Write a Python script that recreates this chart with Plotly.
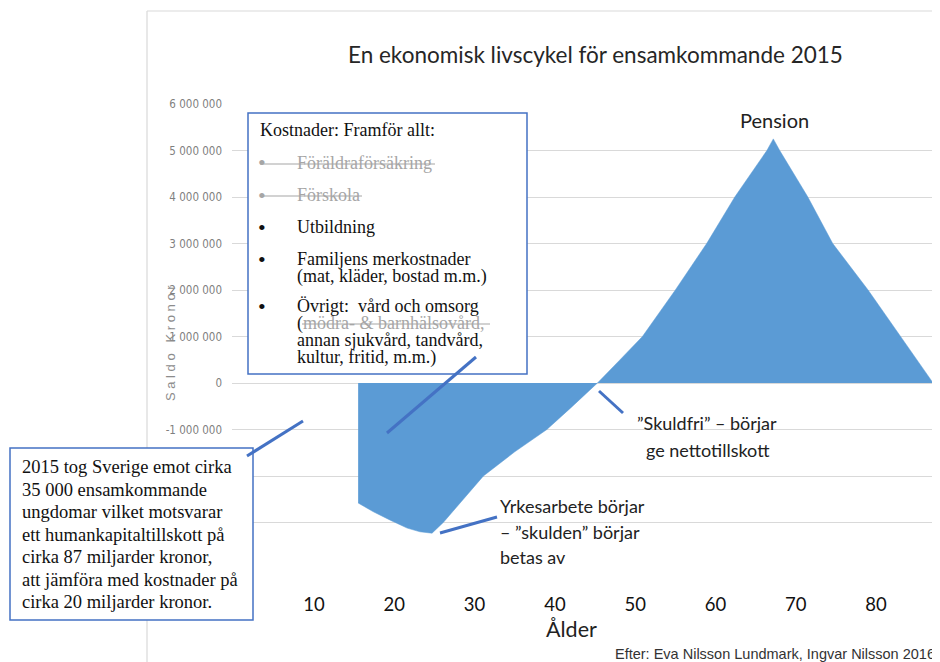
import plotly.graph_objects as go

# ---------------- data ----------------
age = [15.5, 17.4, 19.5, 21.6, 23.2, 24.7, 26.1, 28.5, 31.1, 35.0, 39.0, 42.0, 45.3,
       48.0, 50.9, 55.0, 58.9, 62.4, 66.4, 67.2, 68.0, 71.5, 74.6, 79.0, 83.0, 87.1]
saldo = [-2580000, -2770000, -2950000, -3120000, -3200000, -3230000, -3000000, -2520000,
         -2000000, -1480000, -1000000, -530000, 0,
         480000, 1000000, 2000000, 3000000, 4000000, 5000000, 5250000, 5000000,
         4000000, 3000000, 2000000, 1000000, 0]

x_ticks = [10, 20, 30, 40, 50, 60, 70, 80]
y_ticks = [-4000000, -3000000, -2000000, -1000000, 0, 1000000, 2000000,
           3000000, 4000000, 5000000, 6000000]
y_ticktext = ["", "", "", "-1 000 000", "0", "1 000 000", "2 000 000",
              "3 000 000", "4 000 000", "5 000 000", "6 000 000"]

title = "En ekonomisk livscykel för ensamkommande 2015"
# (text, x, y, bullet?, struck?)
box1_lines = [
    ("Kostnader: Framför allt:", 258, 130, False, False),
    ("Föräldraförsäkring", 295, 163, True, True),
    ("Förskola", 295, 195, True, True),
    ("Utbildning", 295, 227, True, False),
    ("Familjens merkostnader", 295, 259, True, False),
    ("(mat, kläder, bostad m.m.)", 295, 276, False, False),
    ("Övrigt:  vård och omsorg", 295, 306, True, False),
    ("(<span style='color:#a6a6a6'>mödra- &amp; barnhälsovård,</span>", 295, 323, False, False),
    ("annan sjukvård, tandvård,", 295, 340, False, False),
    ("kultur, fritid, m.m.)", 295, 357, False, False),
]
box2_lines = [
    "2015 tog Sverige emot cirka",
    "35 000 ensamkommande",
    "ungdomar vilket motsvarar",
    "ett humankapitaltillskott på",
    "cirka 87 miljarder kronor,",
    "att jämföra med kostnader på",
    "cirka 20 miljarder kronor.",
]

# ---------------- layout geometry (window pixels) ----------------
OX, OY = 8, 8            # page body margin
WIN_W, WIN_H = 940, 662
W, H = WIN_W - OX, WIN_H - OY
L, R, T, B = 232, 936, 104, 569


def px(x):
    return (x - L) / (R - L)


def py(y):
    return (B - y) / (B - T)


BLUE = "#5B9BD5"
LINEBLUE = "#4472C4"
GRID = "#d9d9d9"
CAL = "Lato, Carlito, Calibri, sans-serif"
SERIF = "Liberation Serif, Times New Roman, serif"

fig = go.Figure()
fig.add_trace(go.Scatter(
    x=age, y=saldo, mode="lines", fill="tozeroy",
    line=dict(color=BLUE, width=0.5), fillcolor=BLUE,
    hoverinfo="skip", showlegend=False))

shapes = []
annotations = []


def line(x0, y0, x1, y1, color=LINEBLUE, width=3):
    shapes.append(dict(type="line", xref="paper", yref="paper",
                       x0=px(x0), y0=py(y0), x1=px(x1), y1=py(y1),
                       line=dict(color=color, width=width), layer="above"))


def rect(x0, y0, x1, y1, color=LINEBLUE, fill="white", width=1.5):
    shapes.append(dict(type="rect", xref="paper", yref="paper",
                       x0=px(x0), y0=py(y0), x1=px(x1), y1=py(y1),
                       line=dict(color=color, width=width), fillcolor=fill, layer="above"))


def ann(text, x, y, size, family=CAL, color="#222222", xanchor="left", yanchor="middle", align="left"):
    annotations.append(dict(text=text, x=px(x), y=py(y), xref="paper", yref="paper",
                            xanchor=xanchor, yanchor=yanchor, align=align, showarrow=False,
                            font=dict(size=size, family=family, color=color)))


# chart frame (left and top edges)
line(147, 11, 147, 670, color=GRID, width=1.2)
line(147, 11, 945, 11, color=GRID, width=1.2)

# title
ann(title, 595, 55, 22.5, xanchor="center", color="#262626")

# y axis title
annotations.append(dict(text="S a l d o   K r o n o r", x=px(170), y=py(343), xref="paper", yref="paper",
                        xanchor="center", yanchor="middle", showarrow=False, textangle=-90,
                        font=dict(size=13, family="Liberation Sans, Arial, sans-serif", color="#8c8c8c")))

# other chart labels
ann("Pension", 774, 120, 20, xanchor="center")
ann("”Skuldfri” – börjar", 707, 423, 18, xanchor="center")
ann("ge nettotillskott", 708, 450, 18, xanchor="center")
ann("Yrkesarbete börjar", 498, 506, 18)
ann("– ”skulden” börjar", 498, 532, 18)
ann("betas av", 498, 557, 18)
ann("Ålder", 571, 629, 21.5, xanchor="center")
ann("Efter: Eva Nilsson Lundmark, Ingvar Nilsson 2016", 937, 654, 14.5,
    family="Liberation Sans, Arial, sans-serif", xanchor="right", color="#333333")

# text box 1
rect(248, 113, 527, 374)
for txt, xx, yy, bullet, struck in box1_lines:
    color = "#a6a6a6" if struck else "#111111"
    ann(txt, xx, yy, 18, family=SERIF, color=color)
    if bullet:
        ann("•", 262, yy, 22, family=SERIF, color=color, xanchor="center")
# strike-through lines
line(260, 164, 435, 164, color="#a6a6a6", width=1.2)
line(260, 196, 362, 196, color="#a6a6a6", width=1.2)
line(302, 324, 490, 324, color="#a6a6a6", width=1.2)

# text box 2
rect(10, 448, 253, 620)
ys2 = [467, 490, 512, 535, 557, 580, 602]
for txt, yy in zip(box2_lines, ys2):
    ann(txt, 20, yy, 18.5, family=SERIF, color="#111111")

# connector lines
line(387, 433, 476, 357)
line(247, 456, 303, 421)
line(599, 391, 623, 413)
line(440, 533, 497, 517)

fig.update_layout(
    width=W, height=H,
    margin=dict(l=L - OX, r=WIN_W - R, t=T - OY, b=WIN_H - B, pad=0),
    paper_bgcolor="white", plot_bgcolor="white",
    showlegend=False,
    shapes=shapes, annotations=annotations,
    xaxis=dict(range=[-0.21, 87.46], tickvals=x_ticks, showgrid=False, zeroline=False,
               showline=False, ticks="", ticklabelstandoff=22,
               tickfont=dict(size=18.5, family=CAL, color="#111111"), fixedrange=True),
    yaxis=dict(range=[-4000000, 6000000], tickvals=y_ticks, ticktext=y_ticktext,
               showgrid=True, gridcolor=GRID, gridwidth=1.2, zeroline=False,
               showline=False, ticks="", ticklabelstandoff=9,
               tickfont=dict(size=11.5, family="DejaVu Sans Condensed, Liberation Sans Narrow, Liberation Sans, sans-serif",
                             color="#7f7f7f"), fixedrange=True),
)

fig.write_html("out.html")
